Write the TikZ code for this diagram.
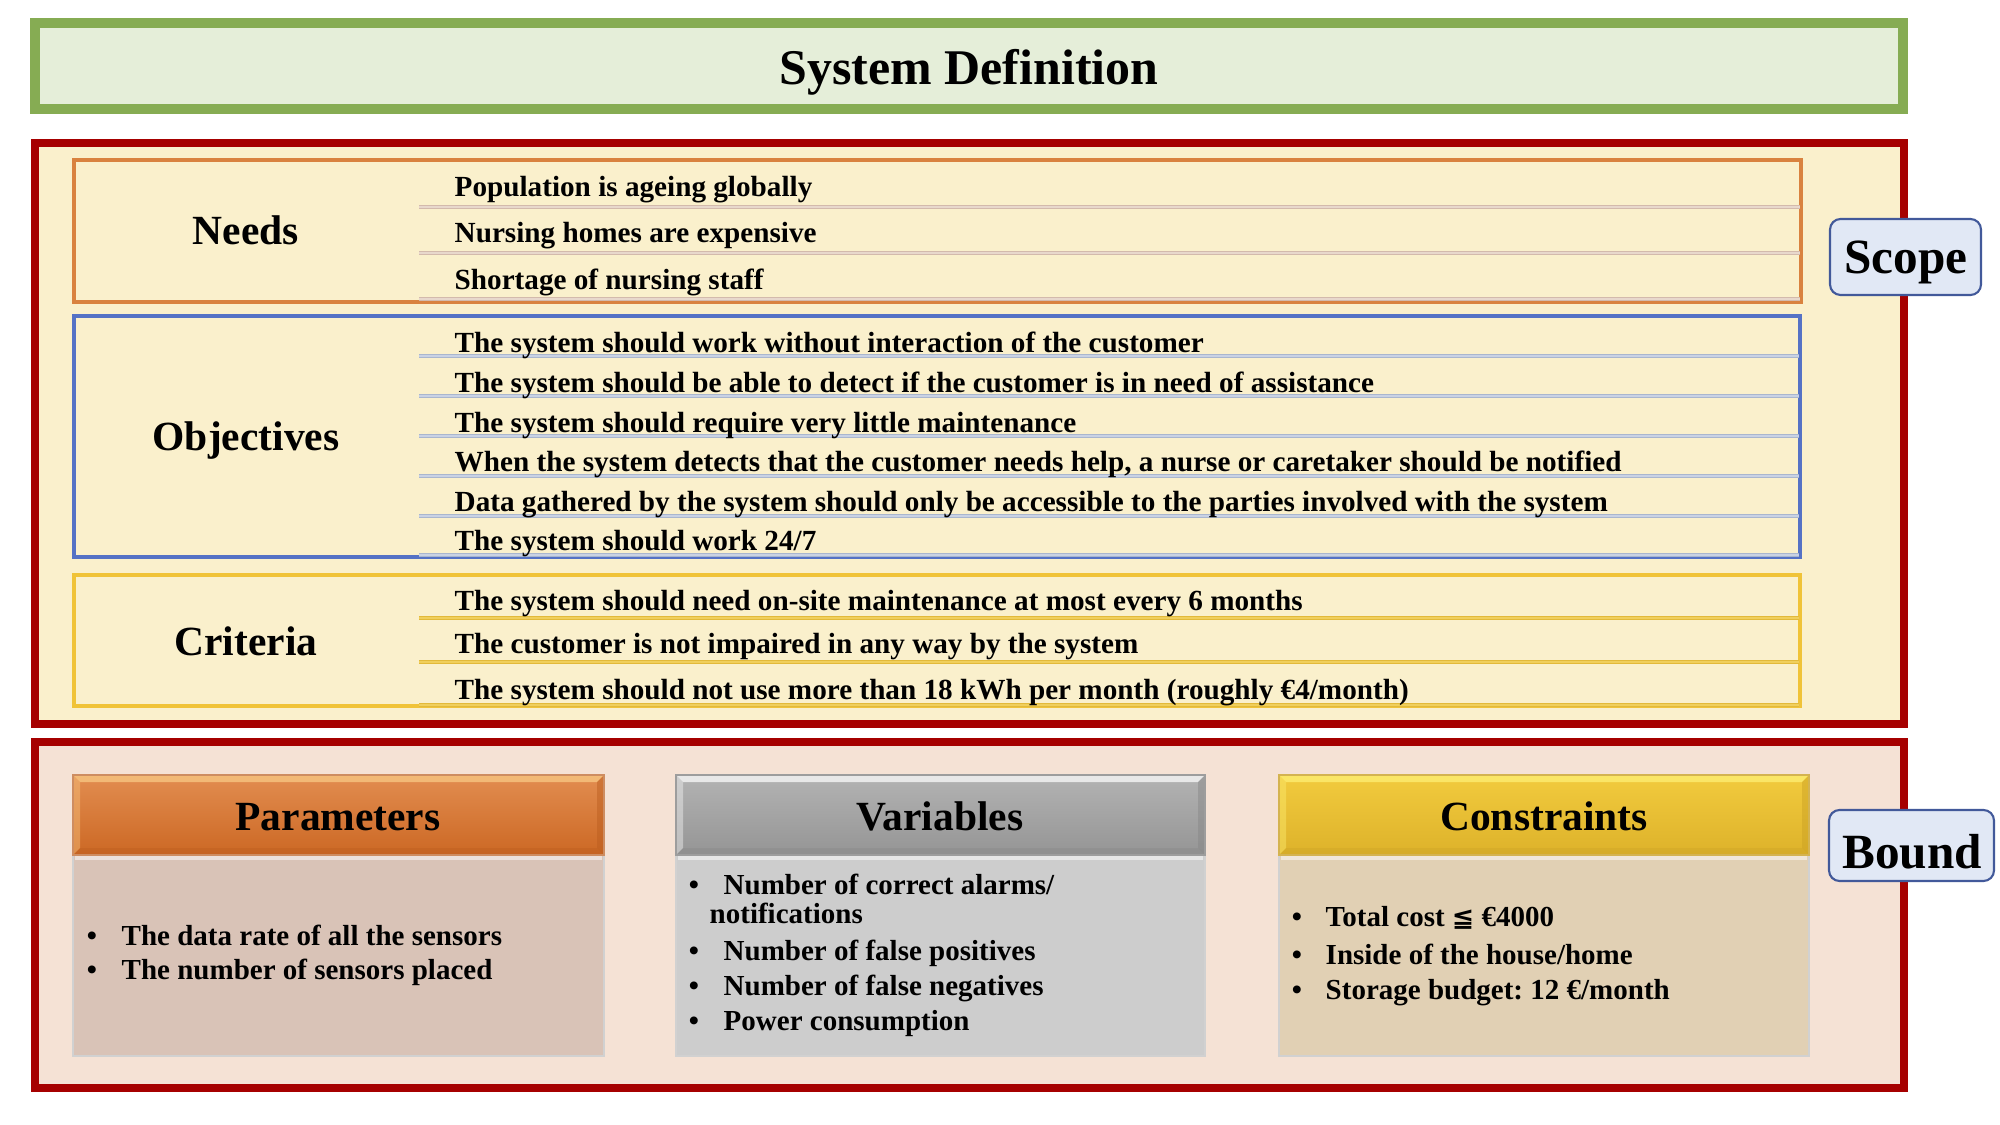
\documentclass[tikz,border=0pt]{standalone}
\usepackage{fontspec}
\setmainfont{Liberation Serif}
\newfontfamily\symfont{DejaVu Sans}
\frenchspacing

\definecolor{titleedge}{HTML}{86AC53}
\definecolor{titlefill}{HTML}{E5EED9}
\definecolor{darkred}{HTML}{A60000}
\definecolor{scopefill}{HTML}{FAF0CC}
\definecolor{boundfill}{HTML}{F5E2D5}
\definecolor{needsedge}{HTML}{D9823F}
\definecolor{objedge}{HTML}{5572C5}
\definecolor{critedge}{HTML}{F0C338}
\definecolor{tagfill}{HTML}{E1E8F5}
\definecolor{tagedge}{HTML}{42599A}
\definecolor{needssep}{HTML}{D3BAAC}
\definecolor{needssepin}{HTML}{E8D8CC}
\definecolor{objsep}{HTML}{A9B6CE}
\definecolor{objsepin}{HTML}{C9D2E4}
\definecolor{critsep}{HTML}{E2B93A}
\definecolor{critsepin}{HTML}{F0CF5C}
\definecolor{parTop}{HTML}{E28D50}
\definecolor{parBot}{HTML}{CC6824}
\definecolor{parHi}{HTML}{F6C27E}
\definecolor{parLo}{HTML}{B95C1E}
\definecolor{parBody}{HTML}{D9C3B7}
\definecolor{varTop}{HTML}{B3B3B3}
\definecolor{varBot}{HTML}{959595}
\definecolor{varHi}{HTML}{F2F2F2}
\definecolor{varLo}{HTML}{858585}
\definecolor{varBody}{HTML}{CDCDCD}
\definecolor{conTop}{HTML}{F2CB3E}
\definecolor{conBot}{HTML}{DDB22A}
\definecolor{conHi}{HTML}{FCEB6E}
\definecolor{conLo}{HTML}{C9A024}
\definecolor{conBody}{HTML}{E1D0B4}

\tikzset{
  rowtext/.style={anchor=base west, inner sep=0pt, font=\bfseries\fontsize{8.3}{10}\selectfont},
  grouplabel/.style={anchor=base, inner sep=0pt, font=\bfseries\fontsize{11.8}{14}\selectfont},
  headlabel/.style={anchor=base, inner sep=0pt, font=\bfseries\fontsize{11.8}{14}\selectfont},
  tagbox/.style={draw=tagedge, fill=tagfill, line width=0.6pt, rounded corners=3pt},
  taglabel/.style={anchor=base, inner sep=0pt, font=\bfseries\fontsize{14}{16}\selectfont},
  bullettext/.style={anchor=base west, inner sep=0pt, font=\bfseries\fontsize{8.25}{10}\selectfont},
  bulletdot/.style={anchor=base, inner sep=0pt, font=\bfseries\fontsize{8.25}{10}\selectfont},
  outerframe/.style={draw=darkred, line width=2.3pt},
}

% separator line with a lighter core
\newcommand{\sepline}[4]{%
  \draw[line width=0.9pt, #3] (#1) -- (#2);
  \draw[line width=0.3pt, #4] (#1) -- (#2);
}

% bevelled header bar: x1,y1,x2,y2, top, bottom, highlight, lowlight, edge
\newcommand{\bevelbar}[9]{%
  \shade[top color=#5, bottom color=#6] (#1,#2) rectangle (#3,#4);
  \fill[#7, opacity=0.85] (#1,#2) -- (#3,#2) -- ({#3-7},{#2+7}) -- ({#1+7},{#2+7}) -- cycle;
  \fill[#7, opacity=0.45] (#1,#2) -- ({#1+7},{#2+7}) -- ({#1+7},{#4-7}) -- (#1,#4) -- cycle;
  \fill[#8, opacity=0.45] (#3,#2) -- (#3,#4) -- ({#3-7},{#4-7}) -- ({#3-7},{#2+7}) -- cycle;
  \fill[#8, opacity=0.35] (#1,#4) -- (#3,#4) -- ({#3-7},{#4-7}) -- ({#1+7},{#4-7}) -- cycle;
  \draw[#9, line width=0.5pt] (#1,#2) rectangle (#3,#4);
}

\begin{document}
\begin{tikzpicture}[x=0.01cm, y=-0.01cm]
\useasboundingbox (0,0) rectangle (2000,1125);

% ---------- title ----------
\draw[draw=titleedge, fill=titlefill, line width=2.8pt] (35,23) rectangle (1903,109);
\node[anchor=base, inner sep=0pt, font=\bfseries\fontsize{14.2}{16}\selectfont] (title) at (969,85) {System Definition};

% ---------- scope frame ----------
\draw[outerframe, fill=scopefill] (35,143) rectangle (1904,724);

% Needs
\draw[needsedge, line width=0.9pt] (74,160) rectangle (1801,302);
\sepline{419,207}{1800,207}{needssep}{needssepin}
\sepline{419,253}{1800,253}{needssep}{needssepin}
\sepline{419,299}{1800,299}{needssep}{needssepin}
\node[grouplabel] (needs) at (246,245) {Needs};
\node[rowtext] (n1) at (454,197) {Population is ageing globally};
\node[rowtext] (n2) at (454,243) {Nursing homes are expensive};
\node[rowtext] (n3) at (454,290) {Shortage of nursing staff};

% Objectives
\draw[objedge, line width=0.9pt] (74,316) rectangle (1800,557);
\sepline{419,356}{1799,356}{objsep}{objsepin}
\sepline{419,396}{1799,396}{objsep}{objsepin}
\sepline{419,436}{1799,436}{objsep}{objsepin}
\sepline{419,476}{1799,476}{objsep}{objsepin}
\sepline{419,516}{1799,516}{objsep}{objsepin}
\sepline{419,555}{1799,555}{objsep}{objsepin}
\node[grouplabel] (objectives) at (246,451) {Objectives};
\node[rowtext] (o1) at (454,353) {The system should work without interaction of the customer};
\node[rowtext] (o2) at (454,393) {The system should be able to detect if the customer is in need of assistance};
\node[rowtext] (o3) at (454,433) {The system should require very little maintenance};
\node[rowtext] (o4) at (454,472) {When the system detects that the customer needs help, a nurse or caretaker should be notified};
\node[rowtext] (o5) at (454,512) {Data gathered by the system should only be accessible to the parties involved with the system};
\node[rowtext] (o6) at (454,551) {The system should work 24/7};

% Criteria
\draw[critedge, line width=0.9pt] (74,575) rectangle (1800,706);
\sepline{419,618}{1799,618}{critsep}{critsepin}
\sepline{419,662}{1799,662}{critsep}{critsepin}
\sepline{419,705}{1799,705}{critsep}{critsepin}
\node[grouplabel] (criteria) at (246,656) {Criteria};
\node[rowtext] (c1) at (454,611) {The system should need on-site maintenance at most every 6 months};
\node[rowtext] (c2) at (454,654) {The customer is not impaired in any way by the system};
\node[rowtext] (c3) at (454,699) {The system should not use more than 18 kWh per month (roughly €4/month)};

% Scope tag
\draw[tagbox] (1830,219) rectangle (1981,295);
\node[taglabel] (scope) at (1906,274) {Scope};

% ---------- bound frame ----------
\draw[outerframe, fill=boundfill] (35,742) rectangle (1904,1088);

% Parameters
\fill[parBody] (73,855) rectangle (604,1056);
\draw[white, opacity=0.5, line width=1.2pt] (75,858) -- (602,858);
\draw[black!18, line width=0.5pt] (73,855) rectangle (604,1056);
\bevelbar{73}{775}{604}{855}{parTop}{parBot}{parHi}{parLo}{parLo!70}
\node[headlabel] (parameters) at (338,830) {Parameters};
\node[bulletdot] (pb1) at (92,945) {•};
\node[bullettext] (p1) at (121,945) {The data rate of all the sensors};
\node[bulletdot] (pb2) at (92,979) {•};
\node[bullettext] (p2) at (121,979) {The number of sensors placed};

% Variables
\fill[varBody] (676,855) rectangle (1205,1056);
\draw[white, opacity=0.5, line width=1.2pt] (678,858) -- (1203,858);
\draw[black!18, line width=0.5pt] (676,855) rectangle (1205,1056);
\bevelbar{676}{775}{1205}{855}{varTop}{varBot}{varHi}{varLo}{varLo!80}
\node[headlabel] (variables) at (940,830) {Variables};
\node[bulletdot] (vb1) at (694,894) {•};
\node[bullettext] (v1) at (723,894) {Number of correct alarms/};
\node[bullettext] (v1b) at (709,923) {notifications};
\node[bulletdot] (vb2) at (694,960) {•};
\node[bullettext] (v2) at (723,960) {Number of false positives};
\node[bulletdot] (vb3) at (694,995) {•};
\node[bullettext] (v3) at (723,995) {Number of false negatives};
\node[bulletdot] (vb4) at (694,1030) {•};
\node[bullettext] (v4) at (723,1030) {Power consumption};

% Constraints
\fill[conBody] (1279,855) rectangle (1809,1056);
\draw[white, opacity=0.5, line width=1.2pt] (1281,858) -- (1807,858);
\draw[black!18, line width=0.5pt] (1279,855) rectangle (1809,1056);
\bevelbar{1279}{775}{1809}{855}{conTop}{conBot}{conHi}{conLo}{conLo!80}
\node[headlabel] (constraints) at (1544,830) {Constraints};
\node[bulletdot] (cb1) at (1297,926) {•};
\node[bullettext] (k1) at (1325,926) {Total cost {\symfont\fontsize{7.6}{10}\selectfont ≦} €4000};
\node[bulletdot] (cb2) at (1297,964) {•};
\node[bullettext] (k2) at (1325,964) {Inside of the house/home};
\node[bulletdot] (cb3) at (1297,999) {•};
\node[bullettext] (k3) at (1325,999) {Storage budget: 12 €/month};

% Bound tag
\draw[tagbox] (1829,810) rectangle (1994,881);
\node[taglabel] (bound) at (1912,868) {Bound};
\end{tikzpicture}
\end{document}
